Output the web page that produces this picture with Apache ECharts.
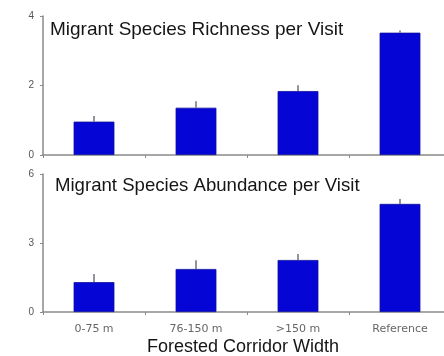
<!DOCTYPE html>
<html>
<head>
<meta charset="utf-8">
<script src="https://cdn.jsdelivr.net/npm/echarts@6/dist/echarts.min.js"></script>
<style>
  html, body { margin: 0; padding: 0; background: #fff; }
  #chart { width: 444px; height: 356px; }
</style>
</head>
<body>
<div id="chart"></div>
<script>
// Corridor width classes
var categories = ['0-75 m', '76-150 m', '>150 m', 'Reference'];

// Mean migrant species richness per visit and its standard error
var richness = [0.96, 1.36, 1.84, 3.52];
var richnessSE = [0.16, 0.19, 0.17, 0.06];

// Mean migrant abundance per visit and its standard error
var abundance = [1.30, 1.87, 2.26, 4.70];
var abundanceSE = [0.35, 0.38, 0.26, 0.21];

var richnessTicks = [0, 2, 4];
var abundanceTicks = [0, 3, 6];

var BAR = '#0505d6';
var AXIS = '#8a8a8a';
var FONT = '"Liberation Sans", Arial, sans-serif';
var SMALL_FONT = '"DejaVu Sans", sans-serif';

function errorData(means, se) {
  return means.map(function (m, i) { return [i, m, m + se[i]]; });
}

// Upper error whisker, positioned through the axis scales
function renderError(params, api) {
  var lo = api.coord([api.value(0), api.value(1)]);
  var hi = api.coord([api.value(0), api.value(2)]);
  return {
    type: 'line',
    shape: { x1: lo[0], y1: lo[1], x2: hi[0], y2: hi[1] },
    style: { stroke: '#6f6f80', lineWidth: 1.5 }
  };
}

function yAxis(gridIndex, ticks) {
  return {
    type: 'value',
    gridIndex: gridIndex,
    min: ticks[0],
    max: ticks[ticks.length - 1],
    interval: ticks[1] - ticks[0],
    splitLine: { show: false },
    axisLine: { show: true, lineStyle: { color: AXIS, width: 1.5 } },
    axisTick: { show: true, length: 3, lineStyle: { color: AXIS } },
    axisLabel: { color: '#555', fontSize: 10, fontFamily: FONT, margin: 9 }
  };
}

function xAxis(gridIndex, showLabels) {
  return {
    type: 'category',
    gridIndex: gridIndex,
    data: categories,
    axisLine: { show: true, lineStyle: { color: AXIS, width: 1.5 } },
    axisTick: { show: true, length: 3, lineStyle: { color: AXIS } },
    axisLabel: {
      show: showLabels, color: '#666', fontSize: 11, fontFamily: SMALL_FONT, margin: 12
    }
  };
}

var chart = echarts.init(document.getElementById('chart'), null, { renderer: 'canvas' });

chart.setOption({
  animation: false,
  backgroundColor: '#ffffff',
  title: [
    {
      text: 'Migrant Species Richness per Visit',
      left: 45, top: 15,
      textStyle: { fontSize: 19, fontWeight: 'normal', color: '#151515', fontFamily: FONT }
    },
    {
      text: 'Migrant Species Abundance per Visit',
      left: 50, top: 171,
      textStyle: { fontSize: 18.6, fontWeight: 'normal', color: '#151515', fontFamily: FONT }
    },
    {
      text: 'Forested Corridor Width',
      left: 142, top: 333,
      textStyle: { fontSize: 18, fontWeight: 'normal', color: '#151515', fontFamily: FONT }
    }
  ],
  grid: [
    { left: 43, width: 408, top: 16, height: 139, outerBoundsMode: 'none' },
    { left: 43, width: 408, top: 174, height: 138, outerBoundsMode: 'none' }
  ],
  xAxis: [xAxis(0, false), xAxis(1, true)],
  yAxis: [yAxis(0, richnessTicks), yAxis(1, abundanceTicks)],
  series: [
    {
      type: 'bar', xAxisIndex: 0, yAxisIndex: 0, data: richness,
      barWidth: '40%',
      itemStyle: { color: BAR, borderColor: '#1010a0', borderWidth: 0.8 },
      z: 2
    },
    {
      type: 'custom', xAxisIndex: 0, yAxisIndex: 0,
      data: errorData(richness, richnessSE),
      renderItem: renderError, z: 3
    },
    {
      type: 'bar', xAxisIndex: 1, yAxisIndex: 1, data: abundance,
      barWidth: '40%',
      itemStyle: { color: BAR, borderColor: '#1010a0', borderWidth: 0.8 },
      z: 2
    },
    {
      type: 'custom', xAxisIndex: 1, yAxisIndex: 1,
      data: errorData(abundance, abundanceSE),
      renderItem: renderError, z: 3
    }
  ]
});
</script>
</body>
</html>
